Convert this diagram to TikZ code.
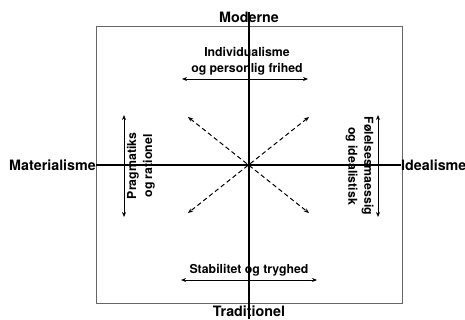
\documentclass[tikz,border=0pt]{standalone}
\usepackage{fontspec}
\setmainfont{TeX Gyre Heros}
\usetikzlibrary{arrows.meta}
\begin{document}
\begin{tikzpicture}[x=1pt,y=-1pt,
  axislbl/.style={font=\fontsize{14.3}{16}\selectfont\bfseries, inner sep=0pt},
  innerlbl/.style={font=\fontsize{12.3}{16}\selectfont\bfseries, inner sep=0pt, align=center},
  axis/.style={line width=1.4pt, black},
  frame/.style={draw=black!60, line width=0.9pt},
  dbl/.style={line width=0.9pt, {Stealth[length=5pt,width=4pt]}-{Stealth[length=5pt,width=4pt]}},
  dsh/.style={dbl, line width=1pt, dash pattern=on 4.5pt off 3pt}]
\useasboundingbox (0,0) rectangle (465,320);
\node[frame, draw, minimum width=306pt, minimum height=277pt, inner sep=0pt] (frm) at (249,164.5) {};
\node[axislbl] (mod) at (249,17) {Moderne};
\node[axislbl] (tra) at (249,311) {Traditionel};
\node[axislbl, anchor=east] (mat) at (96,165) {Materialisme};
\node[axislbl, anchor=west] (ide) at (401,165) {Idealisme};
\coordinate (vt) at (249,12);
\coordinate (vb) at (249,319);
\draw[axis] (vt) -- (vb);
\draw[axis] (mat.east) -- (ide.west);
% top
\node[innerlbl] (ind) at (247,61) {Individualisme\\og personlig frihed};
\coordinate (tl) at (182,79);
\coordinate (tr) at (308,79);
\draw[dbl] (tl) -- (tr);
% bottom
\node[innerlbl] (sta) at (249,270) {Stabilitet og tryghed};
\coordinate (bl) at (181,280);
\coordinate (br) at (317,280);
\draw[dbl] (bl) -- (br);
% left
\coordinate (lt) at (124,115);
\coordinate (lb) at (124,217);
\draw[dbl] (lt) -- (lb);
\node[innerlbl, rotate=90] (pra) at (141,166) {Pragmatiks\\og rationel};
% right
\coordinate (rt) at (378,115);
\coordinate (rb) at (378,217);
\draw[dbl] (rt) -- (rb);
\node[innerlbl, rotate=-90] (fol) at (359.5,166) {Følelsesmaessig\\og idealistisk};
% diagonals
\coordinate (ul) at (188,117);
\coordinate (ur) at (309,117);
\coordinate (ll) at (188,213);
\coordinate (lr) at (309,213);
\draw[dsh] (ul) -- (lr);
\draw[dsh] (ur) -- (ll);
\end{tikzpicture}
\end{document}
